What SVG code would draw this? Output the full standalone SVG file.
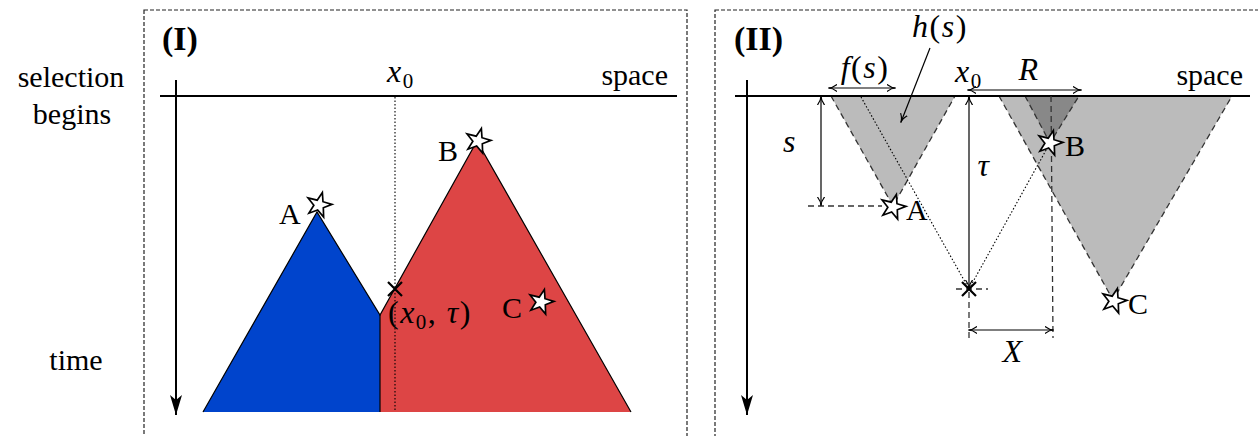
<svg xmlns="http://www.w3.org/2000/svg" width="1258" height="436" viewBox="0 0 1258 436">
<style>
text{font-family:"Liberation Serif","Times New Roman",serif;font-size:30px;fill:#000}
.it{font-style:italic}
.m{font-size:32px;letter-spacing:1.5px}
.sub{font-size:21px;font-style:normal}
.bold{font-weight:bold;font-size:34px}
.frame{fill:none;stroke:#222;stroke-width:1.2;stroke-dasharray:4 2}
.axis{stroke:#000;stroke-width:2;fill:none}
.thin{stroke:#000;stroke-width:1.2;fill:none}
.dot{stroke:#000;stroke-width:1.1;stroke-dasharray:1.5 2;fill:none}
.dash{stroke:#333;stroke-width:1.3;stroke-dasharray:6 4;fill:none}
.star{fill:#fff;stroke:#000;stroke-width:1.7;stroke-linejoin:miter}
.cross{stroke:#000;stroke-width:2.2}
</style>
<defs>
<marker id="big" viewBox="0 0 20 12" refX="20" refY="6" markerWidth="20" markerHeight="12" markerUnits="userSpaceOnUse" orient="auto">
<path d="M0,0 L20,6 L0,12 L5,6 Z" fill="#000"/>
</marker>
<marker id="ah" viewBox="0 0 10 10" refX="9" refY="5" markerWidth="9" markerHeight="9" markerUnits="userSpaceOnUse" orient="auto-start-reverse">
<path d="M0,1 Q5,5 10,5 Q5,5 0,9" fill="none" stroke="#000" stroke-width="1.3"/>
</marker>
<path id="star" d="M0,-13 L3,-4.2 L12.4,-4 L4.9,1.6 L7.6,10.5 L0,5.2 L-7.6,10.5 L-4.9,1.6 L-12.4,-4 L-3,-4.2 Z"/>
</defs>

<g id="side-labels">
<text x="71" y="87" text-anchor="middle">selection</text>
<text x="72" y="124" text-anchor="middle">begins</text>
<text x="76" y="370" text-anchor="middle">time</text>
</g>

<g id="panel-I">
<rect class="frame" x="144" y="10" width="543" height="440"/>
<text class="bold" x="162" y="50">(I)</text>
<g id="regions-I">
<polygon id="blue-region" points="203,412 317,212 380,315 380,412" fill="#0044cc"/>
<polygon id="red-region" points="380,315 477,141 631,412 380,412" fill="#dd4545"/>
<polyline class="thin" points="203,412 317,212 380,315 477,141 631,412" stroke-width="1.6"/>
<line class="thin" x1="380" y1="315" x2="380" y2="412" stroke-width="1.6"/>
</g>
<g id="axes-I">
<line class="axis" x1="160" y1="96" x2="677" y2="96"/>
<line class="axis" x1="176" y1="80" x2="176" y2="415" marker-end="url(#big)"/>
<line class="dot" x1="395" y1="97" x2="395" y2="412"/>
<text x="668" y="85" text-anchor="end">space</text>
<text class="m" x="387" y="82"><tspan class="it">x</tspan><tspan class="sub" dy="6">0</tspan></text>
</g>
<g id="point-x0tau-I">
<path class="cross" d="M388,282 L402,296 M402,282 L388,296"/>
<text class="m" x="388" y="323">(<tspan class="it">x</tspan><tspan class="sub" dy="6">0</tspan><tspan dy="-6">, </tspan><tspan class="it">τ</tspan>)</text>
</g>
<g id="star-A-I"><use href="#star" class="star" transform="translate(319,205) rotate(15)"/><text x="279" y="224">A</text></g>
<g id="star-B-I"><use href="#star" class="star" transform="translate(478,141) rotate(15)"/><text x="438" y="161">B</text></g>
<g id="star-C-I"><use href="#star" class="star" transform="translate(541,302) rotate(15)"/><text x="502" y="318">C</text></g>
</g>

<g id="panel-II">
<rect class="frame" x="715" y="10" width="560" height="440"/>
<text class="bold" x="734" y="50">(II)</text>
<g id="cones-II">
<polygon id="cone-A" points="831,96 955,96 893,206" fill="#bbbbbb"/>
<polygon id="cone-C" points="999,96 1232,96 1113,300" fill="#bbbbbb"/>
<polygon id="cone-B" points="1025,96 1079,96 1050,143" fill="#888888"/>
<polyline class="dash" points="831,96 893,206 955,96"/>
<polyline class="dash" points="999,96 1113,300 1232,96"/>
<polyline class="dash" points="1025,96 1050,143 1079,96" stroke-width="1"/>
</g>
<g id="axes-II">
<line class="axis" x1="735" y1="96" x2="1250" y2="96"/>
<line class="axis" x1="747" y1="80" x2="747" y2="415" marker-end="url(#big)"/>
<text x="1243" y="85" text-anchor="end">space</text>
<text class="m" x="955" y="82"><tspan class="it">x</tspan><tspan class="sub" dy="6">0</tspan></text>
</g>
<g id="connectors">
<line class="dot" x1="861" y1="97" x2="969" y2="289"/>
<line class="dot" x1="969" y1="289" x2="1050" y2="143"/>
<line class="dash" x1="1051" y1="96" x2="1053" y2="338" stroke-width="1.1" stroke-dasharray="5 4"/>
<line class="dash" x1="969" y1="292" x2="969" y2="338" stroke-width="1.1" stroke-dasharray="5 4"/>
<line class="dash" x1="956" y1="289" x2="988" y2="289" stroke-width="1.1" stroke-dasharray="5 4"/>
<line class="dash" x1="808" y1="206" x2="882" y2="206" stroke-width="1.1" stroke-dasharray="5 4"/>
<line class="thin" x1="821" y1="97" x2="821" y2="205" marker-start="url(#ah)" marker-end="url(#ah)"/>
<line class="thin" x1="969" y1="97" x2="969" y2="288" marker-start="url(#ah)" marker-end="url(#ah)"/>
<line class="thin" x1="829" y1="88" x2="895" y2="88" marker-start="url(#ah)" marker-end="url(#ah)"/>
<line class="thin" x1="968" y1="90" x2="1081" y2="90" marker-start="url(#ah)" marker-end="url(#ah)"/>
<line class="thin" x1="969" y1="330" x2="1053" y2="330" marker-start="url(#ah)" marker-end="url(#ah)"/>
<line class="thin" x1="930" y1="48" x2="901" y2="122" marker-end="url(#ah)"/>
</g>
<g id="labels-II">
<text class="m it" x="790" y="152" text-anchor="middle">s</text>
<text class="m it" x="984" y="176" text-anchor="middle">τ</text>
<text class="m" x="865" y="78" text-anchor="middle"><tspan class="it">f</tspan>(<tspan class="it">s</tspan>)</text>
<text class="m" x="940" y="37" text-anchor="middle"><tspan class="it">h</tspan>(<tspan class="it">s</tspan>)</text>
<text class="m it" x="1029" y="80" text-anchor="middle">R</text>
<text class="m it" x="1013" y="362" text-anchor="middle">X</text>
</g>
<g id="point-x0tau-II"><path class="cross" d="M962,282 L976,296 M976,282 L962,296"/></g>
<g id="star-A-II"><use href="#star" class="star" transform="translate(893,207) rotate(15)"/><text x="906" y="220">A</text></g>
<g id="star-B-II"><use href="#star" class="star" transform="translate(1050,143) rotate(15)"/><text x="1065" y="156">B</text></g>
<g id="star-C-II"><use href="#star" class="star" transform="translate(1114,301) rotate(15)"/><text x="1128" y="314">C</text></g>
</g>
</svg>
